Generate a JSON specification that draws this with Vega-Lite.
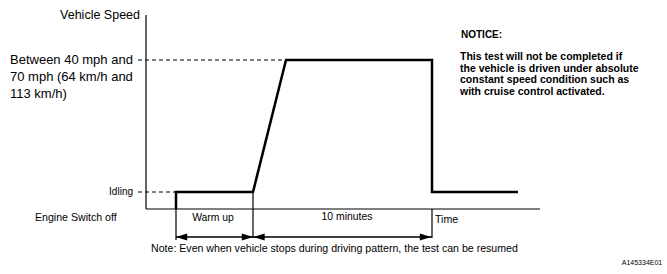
{
  "$schema": "https://vega.github.io/schema/vega-lite/v6.json",
  "width": 667,
  "height": 274,
  "autosize": {"type": "none"},
  "padding": 0,
  "background": "white",
  "config": {"view": {"stroke": null}, "font": "Liberation Sans"},
  "datasets": {
    "axes": [
      {"t": 0, "s": 194, "t2": 0, "s2": 0},
      {"t": 0, "s": 0, "t2": 394, "s2": 0},
      {"t": 30, "s": 0, "t2": 30, "s2": -31},
      {"t": 107, "s": 17, "t2": 107, "s2": -29},
      {"t": 286, "s": 0, "t2": 286, "s2": -29}
    ],
    "guides": [
      {"t": -8, "s": 149, "t2": 140, "s2": 149},
      {"t": -8, "s": 17, "t2": 30, "s2": 17}
    ],
    "spans": [
      {"t": 30, "s": -28, "t2": 107, "s2": -28},
      {"t": 107, "s": -28, "t2": 286, "s2": -28}
    ],
    "heads": [
      {"t": 35.5, "s": -28, "dir": "L"},
      {"t": 101.5, "s": -28, "dir": "R"},
      {"t": 113, "s": -28, "dir": "L"},
      {"t": 279.5, "s": -28, "dir": "R"}
    ],
    "profile": [
      {"i": 1, "t": 30, "s": 0},
      {"i": 2, "t": 30, "s": 17},
      {"i": 3, "t": 107, "s": 17},
      {"i": 4, "t": 140, "s": 149},
      {"i": 5, "t": 286, "s": 149},
      {"i": 6, "t": 286, "s": 17},
      {"i": 7, "t": 372, "s": 17}
    ],
    "bigRight": [{"t": -6, "s": 194, "label": "Vehicle Speed"}],
    "bigLeft": [
      {"t": -136, "s": 149, "label": "Between 40 mph and"},
      {"t": -136, "s": 132, "label": "70 mph (64 km/h and"},
      {"t": -136, "s": 115, "label": "113 km/h)"}
    ],
    "smallRight": [{"t": -13, "s": 17, "label": "Idling"}],
    "smallLeft": [
      {"t": -111, "s": -9, "label": "Engine Switch off"},
      {"t": 289, "s": -11, "label": "Time"},
      {"t": 5, "s": -40, "label": "Note: Even when vehicle stops during driving pattern, the test can be resumed"}
    ],
    "smallCenter": [
      {"t": 67, "s": -9, "label": "Warm up"},
      {"t": 201, "s": -8, "label": "10 minutes"}
    ],
    "noticeHead": [
      {"t": 315, "s": 174, "label": "NOTICE:"}
    ],
    "notice": [
      {"t": 314, "s": 152, "label": "This test will not be completed if"},
      {"t": 314, "s": 140.5, "label": "the vehicle is driven under absolute"},
      {"t": 314, "s": 129, "label": "constant speed condition such as"},
      {"t": 314, "s": 117.5, "label": "with cruise control activated."}
    ],
    "code": [{"t": 496, "s": -54, "label": "A145334E01"}]
  },
  "encoding": {
    "x": {"field": "t", "type": "quantitative", "scale": {"domain": [-146, 521], "nice": false, "zero": false}, "axis": null},
    "y": {"field": "s", "type": "quantitative", "scale": {"domain": [-65, 209], "nice": false, "zero": false}, "axis": null}
  },
  "layer": [
    {
      "data": {"name": "axes"},
      "mark": {"type": "rule", "color": "black", "strokeWidth": 1.2},
      "encoding": {"x2": {"field": "t2"}, "y2": {"field": "s2"}}
    },
    {
      "data": {"name": "guides"},
      "mark": {"type": "rule", "color": "black", "strokeWidth": 1, "strokeDash": [4, 3]},
      "encoding": {"x2": {"field": "t2"}, "y2": {"field": "s2"}}
    },
    {
      "data": {"name": "spans"},
      "mark": {"type": "rule", "color": "black", "strokeWidth": 1.6},
      "encoding": {"x2": {"field": "t2"}, "y2": {"field": "s2"}}
    },
    {
      "data": {"name": "heads"},
      "mark": {"type": "point", "filled": true, "color": "black", "opacity": 1, "size": 130},
      "encoding": {
        "shape": {"field": "dir", "type": "nominal", "scale": {"domain": ["L", "R"], "range": ["M1,-0.6L-1,0L1,0.6Z", "M-1,-0.6L1,0L-1,0.6Z"]}, "legend": null}
      }
    },
    {
      "data": {"name": "profile"},
      "mark": {"type": "line", "color": "black", "strokeWidth": 2.5, "strokeJoin": "miter"},
      "encoding": {"order": {"field": "i", "type": "quantitative"}}
    },
    {
      "data": {"name": "bigRight"},
      "mark": {"type": "text", "align": "right", "baseline": "middle", "fontSize": 12.5, "color": "black"},
      "encoding": {"text": {"field": "label"}}
    },
    {
      "data": {"name": "bigLeft"},
      "mark": {"type": "text", "align": "left", "baseline": "middle", "fontSize": 13, "color": "black"},
      "encoding": {"text": {"field": "label"}}
    },
    {
      "data": {"name": "smallRight"},
      "mark": {"type": "text", "align": "right", "baseline": "middle", "fontSize": 10, "color": "black"},
      "encoding": {"text": {"field": "label"}}
    },
    {
      "data": {"name": "smallLeft"},
      "mark": {"type": "text", "align": "left", "baseline": "middle", "fontSize": 10.6, "color": "black"},
      "encoding": {"text": {"field": "label"}}
    },
    {
      "data": {"name": "smallCenter"},
      "mark": {"type": "text", "align": "center", "baseline": "middle", "fontSize": 10.4, "color": "black"},
      "encoding": {"text": {"field": "label"}}
    },
    {
      "data": {"name": "noticeHead"},
      "mark": {"type": "text", "align": "left", "baseline": "middle", "fontSize": 10, "fontWeight": "bold", "color": "black"},
      "encoding": {"text": {"field": "label"}}
    },
    {
      "data": {"name": "notice"},
      "mark": {"type": "text", "align": "left", "baseline": "middle", "fontSize": 10.5, "fontWeight": "bold", "color": "black"},
      "encoding": {"text": {"field": "label"}}
    },
    {
      "data": {"name": "code"},
      "mark": {"type": "text", "align": "center", "baseline": "middle", "fontSize": 7, "color": "black"},
      "encoding": {"text": {"field": "label"}}
    }
  ]
}
